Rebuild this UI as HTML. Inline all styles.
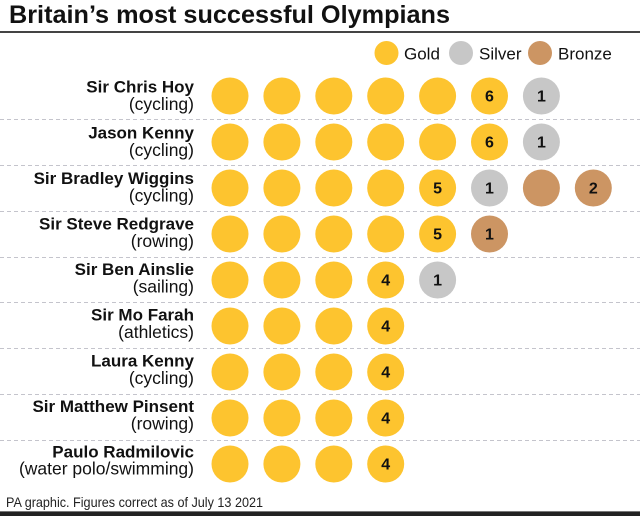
<!DOCTYPE html>
<html>
<head>
<meta charset="utf-8">
<style>
  html, body { margin: 0; padding: 0; background: #fff; }
  svg { display: block; }
  text { font-family: "Liberation Sans", Arial, sans-serif; fill: #111; }
  .nm { font-weight: bold; font-size: 17px; text-anchor: end; }
  .ct { font-size: 17.5px; text-anchor: end; }
  .num { font-weight: bold; font-size: 16px; text-anchor: middle; }
  .lg { font-size: 17px; }
</style>
</head>
<body>
<svg width="640" height="516" viewBox="0 0 640 516" xmlns="http://www.w3.org/2000/svg">
  <rect x="0" y="0" width="640" height="516" fill="#fff"/>
  <!-- Title -->
  <text x="9" y="23" style="font-weight:bold;font-size:25px" textLength="441" lengthAdjust="spacingAndGlyphs">Britain’s most successful Olympians</text>
  <rect x="0" y="31" width="640" height="2" fill="#444"/>

  <!-- Legend -->
  <circle cx="386.5" cy="53" r="12" fill="#FDC42F"/>
  <text class="lg" x="404" y="59.3">Gold</text>
  <circle cx="461" cy="53" r="12" fill="#C7C7C7"/>
  <text class="lg" x="479" y="59.3">Silver</text>
  <circle cx="540" cy="53" r="12" fill="#CC9563"/>
  <text class="lg" x="558" y="59.3">Bronze</text>

  <!-- Dashed separators -->
  <g stroke="#c4c4cc" stroke-width="1" stroke-dasharray="4 3">
    <line x1="0" y1="119.5" x2="640" y2="119.5"/>
    <line x1="0" y1="165.5" x2="640" y2="165.5"/>
    <line x1="0" y1="211.5" x2="640" y2="211.5"/>
    <line x1="0" y1="257.5" x2="640" y2="257.5"/>
    <line x1="0" y1="302.5" x2="640" y2="302.5"/>
    <line x1="0" y1="348.5" x2="640" y2="348.5"/>
    <line x1="0" y1="394.5" x2="640" y2="394.5"/>
    <line x1="0" y1="440.5" x2="640" y2="440.5"/>
  </g>

  <!-- Row 1: Sir Chris Hoy -->
  <text class="nm" x="194" y="92.7">Sir Chris Hoy</text>
  <text class="ct" x="194" y="110.2">(cycling)</text>
  <g fill="#FDC42F">
    <circle cx="230" cy="96" r="18.5"/><circle cx="281.9" cy="96" r="18.5"/><circle cx="333.8" cy="96" r="18.5"/><circle cx="385.7" cy="96" r="18.5"/><circle cx="437.6" cy="96" r="18.5"/><circle cx="489.5" cy="96" r="18.5"/>
  </g>
  <circle cx="541.4" cy="96" r="18.5" fill="#C7C7C7"/>
  <text class="num" x="489.5" y="101.5">6</text>
  <text class="num" x="541.4" y="101.5">1</text>

  <!-- Row 2: Jason Kenny -->
  <text class="nm" x="194" y="138.3">Jason Kenny</text>
  <text class="ct" x="194" y="155.8">(cycling)</text>
  <g fill="#FDC42F">
    <circle cx="230" cy="142" r="18.5"/><circle cx="281.9" cy="142" r="18.5"/><circle cx="333.8" cy="142" r="18.5"/><circle cx="385.7" cy="142" r="18.5"/><circle cx="437.6" cy="142" r="18.5"/><circle cx="489.5" cy="142" r="18.5"/>
  </g>
  <circle cx="541.4" cy="142" r="18.5" fill="#C7C7C7"/>
  <text class="num" x="489.5" y="147.5">6</text>
  <text class="num" x="541.4" y="147.5">1</text>

  <!-- Row 3: Sir Bradley Wiggins -->
  <text class="nm" x="194" y="183.9">Sir Bradley Wiggins</text>
  <text class="ct" x="194" y="201.4">(cycling)</text>
  <g fill="#FDC42F">
    <circle cx="230" cy="188" r="18.5"/><circle cx="281.9" cy="188" r="18.5"/><circle cx="333.8" cy="188" r="18.5"/><circle cx="385.7" cy="188" r="18.5"/><circle cx="437.6" cy="188" r="18.5"/>
  </g>
  <circle cx="489.5" cy="188" r="18.5" fill="#C7C7C7"/>
  <circle cx="541.4" cy="188" r="18.5" fill="#CC9563"/>
  <circle cx="593.3" cy="188" r="18.5" fill="#CC9563"/>
  <text class="num" x="437.6" y="193.5">5</text>
  <text class="num" x="489.5" y="193.5">1</text>
  <text class="num" x="593.3" y="193.5">2</text>

  <!-- Row 4: Sir Steve Redgrave -->
  <text class="nm" x="194" y="229.5">Sir Steve Redgrave</text>
  <text class="ct" x="194" y="247">(rowing)</text>
  <g fill="#FDC42F">
    <circle cx="230" cy="234" r="18.5"/><circle cx="281.9" cy="234" r="18.5"/><circle cx="333.8" cy="234" r="18.5"/><circle cx="385.7" cy="234" r="18.5"/><circle cx="437.6" cy="234" r="18.5"/>
  </g>
  <circle cx="489.5" cy="234" r="18.5" fill="#CC9563"/>
  <text class="num" x="437.6" y="239.5">5</text>
  <text class="num" x="489.5" y="239.5">1</text>

  <!-- Row 5: Sir Ben Ainslie -->
  <text class="nm" x="194" y="275.1">Sir Ben Ainslie</text>
  <text class="ct" x="194" y="292.6">(sailing)</text>
  <g fill="#FDC42F">
    <circle cx="230" cy="280" r="18.5"/><circle cx="281.9" cy="280" r="18.5"/><circle cx="333.8" cy="280" r="18.5"/><circle cx="385.7" cy="280" r="18.5"/>
  </g>
  <circle cx="437.6" cy="280" r="18.5" fill="#C7C7C7"/>
  <text class="num" x="385.7" y="285.5">4</text>
  <text class="num" x="437.6" y="285.5">1</text>

  <!-- Row 6: Sir Mo Farah -->
  <text class="nm" x="194" y="320.7">Sir Mo Farah</text>
  <text class="ct" x="194" y="338.2">(athletics)</text>
  <g fill="#FDC42F">
    <circle cx="230" cy="326" r="18.5"/><circle cx="281.9" cy="326" r="18.5"/><circle cx="333.8" cy="326" r="18.5"/><circle cx="385.7" cy="326" r="18.5"/>
  </g>
  <text class="num" x="385.7" y="331.5">4</text>

  <!-- Row 7: Laura Kenny -->
  <text class="nm" x="194" y="366.3">Laura Kenny</text>
  <text class="ct" x="194" y="383.8">(cycling)</text>
  <g fill="#FDC42F">
    <circle cx="230" cy="372" r="18.5"/><circle cx="281.9" cy="372" r="18.5"/><circle cx="333.8" cy="372" r="18.5"/><circle cx="385.7" cy="372" r="18.5"/>
  </g>
  <text class="num" x="385.7" y="377.5">4</text>

  <!-- Row 8: Sir Matthew Pinsent -->
  <text class="nm" x="194" y="411.9">Sir Matthew Pinsent</text>
  <text class="ct" x="194" y="429.4">(rowing)</text>
  <g fill="#FDC42F">
    <circle cx="230" cy="418" r="18.5"/><circle cx="281.9" cy="418" r="18.5"/><circle cx="333.8" cy="418" r="18.5"/><circle cx="385.7" cy="418" r="18.5"/>
  </g>
  <text class="num" x="385.7" y="423.5">4</text>

  <!-- Row 9: Paulo Radmilovic -->
  <text class="nm" x="194" y="457.5">Paulo Radmilovic</text>
  <text class="ct" x="194" y="474.5">(water polo/swimming)</text>
  <g fill="#FDC42F">
    <circle cx="230" cy="464" r="18.5"/><circle cx="281.9" cy="464" r="18.5"/><circle cx="333.8" cy="464" r="18.5"/><circle cx="385.7" cy="464" r="18.5"/>
  </g>
  <text class="num" x="385.7" y="469.5">4</text>

  <!-- Footer -->
  <text x="6" y="507" style="font-size:14px;fill:#222" textLength="257" lengthAdjust="spacingAndGlyphs">PA graphic. Figures correct as of July 13 2021</text>
  <rect x="0" y="511" width="640" height="1" fill="#777"/>
  <rect x="0" y="512" width="640" height="4" fill="#222"/>
</svg>
</body>
</html>
